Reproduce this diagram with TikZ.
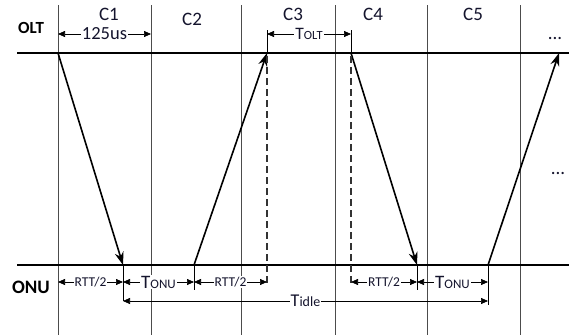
\documentclass[tikz,border=0pt]{standalone}
\usepackage{fontspec}
\setmainfont{Carlito}
\usetikzlibrary{arrows.meta}
\definecolor{txt}{RGB}{20,20,45}
\tikzset{
  grid/.style={draw=black!70, line width=0.8pt},
  bus/.style={draw=black, line width=2.6pt},
  msg/.style={draw=black, line width=1.6pt, -{Stealth[length=13pt,width=9pt]}},
  dim/.style={draw=black, line width=0.7pt, {Triangle[length=7pt,width=6pt]}-{Triangle[length=7pt,width=6pt]}},
  tick/.style={draw=black, line width=0.8pt},
  dsh/.style={draw=black!80, line width=1.1pt, dash pattern=on 7pt off 4pt},
  lbl/.style={fill=white, inner sep=1pt, text=txt},
  cell/.style={text=txt, anchor=base, font=\fontsize{19}{19}\selectfont},
  side/.style={anchor=base, font=\bfseries\fontsize{17}{17}\selectfont},
}
\begin{document}
\begin{tikzpicture}[x=1pt,y=-1pt]
\useasboundingbox (0,0) rectangle (569,335);
% grid lines
\foreach \x/\n in {58/g1,151/g2,241/g3,335/g4,427/g5,520/g6}{
  \coordinate (\n t) at (\x,5);
  \coordinate (\n b) at (\x,335);
  \draw[grid] (\n t) -- (\n b);
}
% buses
\coordinate (oltL) at (17,53); \coordinate (oltR) at (569,53);
\coordinate (onuL) at (17,265); \coordinate (onuR) at (569,265);
\draw[bus] (oltL) -- (oltR);
\draw[bus] (onuL) -- (onuR);
\node[side] (olt) at (31,33.5) {OLT};
\node[side, font=\bfseries\fontsize{19}{19}\selectfont] (onu) at (31,293.5) {ONU};
% cycle labels
\node[cell] (c1) at (109,20.5) {C1};
\node[cell] (c2) at (192,25) {C2};
\node[cell] (c3) at (293,20.5) {C3};
\node[cell] (c4) at (373,20.5) {C4};
\node[cell] (c5) at (473,20.5) {C5};
\node[cell] (dots1) at (555,39) {...};
\node[cell] (dots2) at (558,174) {...};
% key points
\coordinate (a1) at (58,53);   \coordinate (a2) at (123,265);
\coordinate (b1) at (194,265); \coordinate (b2) at (267,53);
\coordinate (d1) at (351,53);  \coordinate (d2) at (417,265);
\coordinate (e1) at (488,265); \coordinate (e2) at (559,53);
% messages
\draw[msg] (a1) -- (a2);
\draw[msg] (b1) -- (b2);
\draw[msg] (d1) -- (d2);
\draw[msg] (e1) -- (e2);
% dashed verticals
\coordinate (b2t) at (267,30); \coordinate (b2b) at (267,286);
\coordinate (d1t) at (351,30); \coordinate (d1b) at (351,286);
\coordinate (b2s) at (267,56); \coordinate (d1s) at (351,56);
\draw[tick] (b2t) -- (b2);
\draw[tick] (d1t) -- (d1);
\draw[dsh] (b2s) -- (b2b);
\draw[dsh] (d1s) -- (d1b);
% ticks under ONU
\coordinate (a2b) at (123,301);
\coordinate (b1b) at (194,290);
\coordinate (d2b) at (417,290);
\coordinate (e1b) at (488,305);
\draw[tick] (a2) -- (a2b);
\draw[tick] (b1) -- (b1b);
\draw[tick] (d2) -- (d2b);
\draw[tick] (e1) -- (e1b);
% top dimensions
\coordinate (p1) at (58,34); \coordinate (p2) at (151,34);
\draw[dim] (p1) -- node[lbl, font=\fontsize{18.5}{18.5}\selectfont] (t125) {125us} (p2);
\coordinate (q1) at (267,34); \coordinate (q2) at (351,34);
\draw[dim] (q1) -- node[lbl, font=\fontsize{17.5}{17.5}\selectfont] (tolt) {T{\fontsize{12.5}{12.5}\selectfont OLT}} (q2);
% bottom dimensions
\coordinate (r1) at (58,282);  \coordinate (r2) at (123,282);
\coordinate (r3) at (194,282); \coordinate (r4) at (267,282);
\coordinate (r5) at (351,282); \coordinate (r6) at (417,282);
\coordinate (r7) at (488,282);
\draw[dim] (r1) -- node[lbl, font=\fontsize{13.5}{13.5}\selectfont] (rt1) {RTT/2} (r2);
\draw[dim] (r2) -- node[lbl, font=\fontsize{19}{19}\selectfont] (to1) {T{\fontsize{13}{13}\selectfont ONU}} (r3);
\draw[dim] (r3) -- node[lbl, font=\fontsize{13.5}{13.5}\selectfont] (rt2) {RTT/2} (r4);
\draw[dim] (r5) -- node[lbl, font=\fontsize{13.5}{13.5}\selectfont] (rt3) {RTT/2} (r6);
\draw[dim] (r6) -- node[lbl, font=\fontsize{19}{19}\selectfont] (to2) {T{\fontsize{13}{13}\selectfont ONU}} (r7);
\coordinate (s1) at (123,301); \coordinate (s2) at (488,301);
\draw[dim] (s1) -- node[lbl, font=\fontsize{18}{18}\selectfont] (tid) {T{\fontsize{14}{14}\selectfont idle}} (s2);
\end{tikzpicture}
\end{document}
